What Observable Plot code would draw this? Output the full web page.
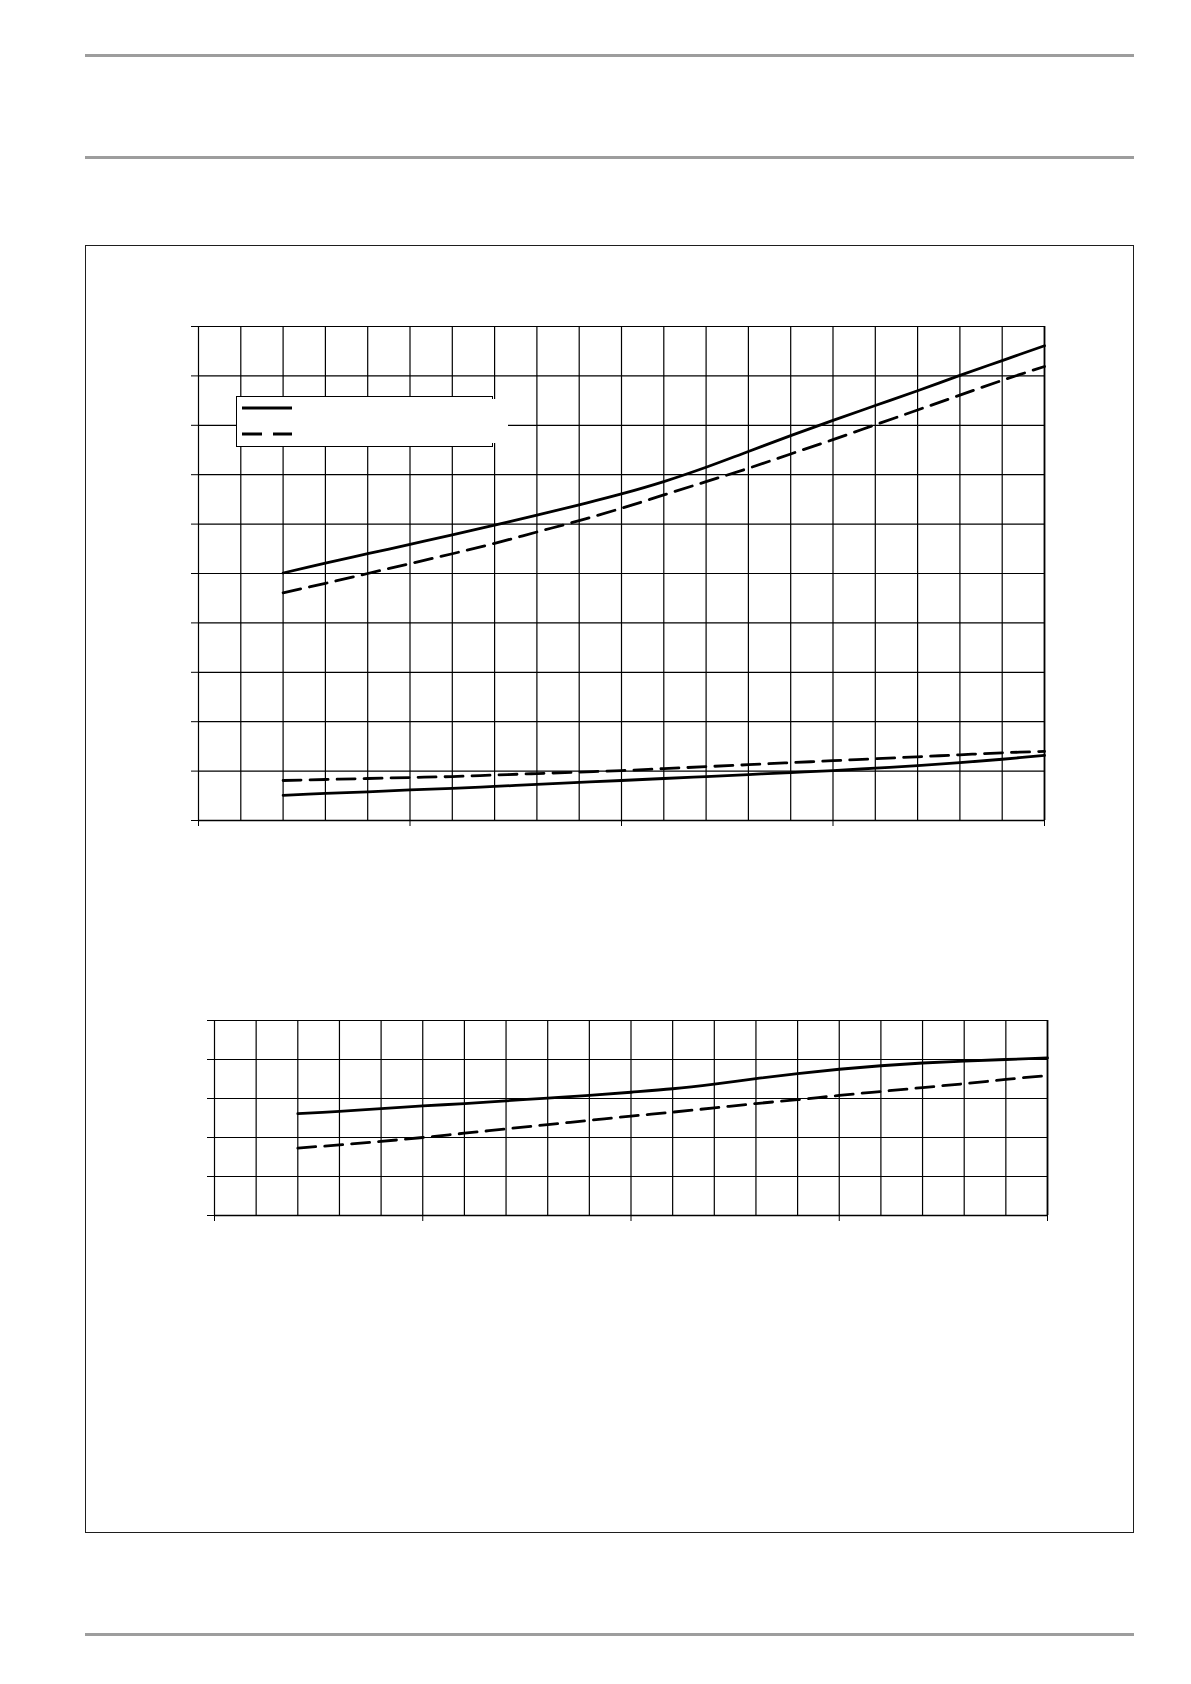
<!DOCTYPE html>
<html>
<head>
<meta charset="utf-8">
<script src="https://cdn.jsdelivr.net/npm/d3@7"></script>
<script src="https://cdn.jsdelivr.net/npm/@observablehq/plot@0.6"></script>
<style>
  html, body { margin: 0; padding: 0; background: #fff; }
  #page { position: relative; width: 1191px; height: 1684px; background: #fff; font-family: "Liberation Sans", Arial, sans-serif; }
  .rule { position: absolute; left: 85px; width: 1049px; height: 3px; background: #9d9d9d; }
  #box { position: absolute; left: 85px; top: 245px; width: 1047px; height: 1286px; border: 1.5px solid #1e1e1e; }
  .chart { position: absolute; }
  #legend { position: absolute; left: 236px; top: 396px; width: 255px; height: 49px; border: 1px solid #000; background: #fff; }
  #legendExt { position: absolute; left: 491px; top: 399px; width: 17px; height: 44px; background: #fff; }
</style>
</head>
<body>
<div id="page">
  <div class="rule" style="top:54px"></div>
  <div class="rule" style="top:156px"></div>
  <div class="rule" style="top:1633px"></div>
  <div id="box"></div>
  <div id="top" class="chart" style="left:150px; top:300px;"></div>
  <div id="legend">
    <svg width="255" height="49" style="position:absolute;left:0;top:0">
      <line x1="5" x2="55" y1="11" y2="11" stroke="#000" stroke-width="3"/>
      <line x1="5" x2="55" y1="37" y2="37" stroke="#000" stroke-width="3" stroke-dasharray="20,11"/>
    </svg>
  </div>
  <div id="legendExt"></div>
  <div id="bottom" class="chart" style="left:160px; top:995px;"></div>
</div>
<script>
// ---- data (axis/legend texts are absent in the source) ----
const xs = [2, 3, 4, 5, 6, 7, 8, 9, 10, 11, 12, 13, 14, 15, 16, 17, 18, 19, 20];

// upper chart
const topSolidHigh = [5.01, 5.21, 5.40, 5.59, 5.78, 5.98, 6.18, 6.39, 6.61, 6.86, 7.15, 7.47, 7.79, 8.10, 8.40, 8.70, 9.01, 9.31, 9.61];
const topDashedHigh = [4.61, 4.80, 5.00, 5.20, 5.40, 5.61, 5.84, 6.07, 6.32, 6.59, 6.86, 7.13, 7.42, 7.71, 8.01, 8.31, 8.61, 8.91, 9.19];
const topSolidLow = [0.51, 0.55, 0.58, 0.62, 0.65, 0.69, 0.73, 0.77, 0.81, 0.85, 0.89, 0.93, 0.97, 1.01, 1.06, 1.11, 1.17, 1.24, 1.32];
const topDashedLow = [0.81, 0.83, 0.85, 0.87, 0.89, 0.92, 0.95, 0.98, 1.01, 1.05, 1.09, 1.13, 1.17, 1.21, 1.25, 1.29, 1.33, 1.37, 1.40];

// lower chart
const bottomSolid = [2.61, 2.67, 2.74, 2.81, 2.87, 2.94, 3.01, 3.08, 3.16, 3.25, 3.37, 3.51, 3.64, 3.75, 3.84, 3.91, 3.96, 4.00, 4.04];
const bottomDashed = [1.73, 1.81, 1.90, 2.00, 2.11, 2.22, 2.33, 2.44, 2.55, 2.65, 2.76, 2.87, 2.97, 3.08, 3.18, 3.28, 3.38, 3.49, 3.59];

// ticks / grid
const xGrid = [0, 1, 2, 3, 4, 5, 6, 7, 8, 9, 10, 11, 12, 13, 14, 15, 16, 17, 18, 19, 20];
const xMajorTicks = [0, 5, 10, 15, 20];
const yGridTop = [0, 1, 2, 3, 4, 5, 6, 7, 8, 9, 10];
const yGridBottom = [0, 1, 2, 3, 4, 5];

const rows = (arr) => xs.map((x, i) => ({x, y: arr[i]}));
const DASH = "18,9";
const LW = 2.8;

function chart({width, height, margins, yDomain, yTicks, solids, dashes}) {
  return Plot.plot({
    width, height,
    marginLeft: margins[0], marginRight: margins[1], marginTop: margins[2], marginBottom: margins[3],
    style: {background: "transparent", overflow: "visible"},
    x: {domain: [0, 20], ticks: xMajorTicks, tickSize: 6, tickFormat: () => "", label: null},
    y: {domain: yDomain, ticks: yTicks, tickSize: 7, tickFormat: () => "", label: null},
    marks: [
      Plot.ruleX(xGrid, {stroke: "#000", strokeWidth: 1.2}),
      Plot.ruleY(yTicks, {stroke: "#000", strokeWidth: 1.2}),
      Plot.ruleY([yDomain[0]], {stroke: "#000", strokeWidth: 1.7}),
      Plot.ruleX([20], {stroke: "#000", strokeWidth: 1.7}),
      ...solids.map(a => Plot.line(rows(a), {x: "x", y: "y", stroke: "#000", strokeWidth: LW, curve: "catmull-rom"})),
      ...dashes.map(a => Plot.line(rows(a), {x: "x", y: "y", stroke: "#000", strokeWidth: LW, strokeDasharray: DASH, curve: "catmull-rom"}))
    ]
  });
}

// top chart: plot area x 198..1044, y 326..820 (page coords), svg at (150,300)
document.getElementById("top").appendChild(chart({
  width: 920, height: 560, margins: [48, 26, 26, 40],
  yDomain: [0, 10], yTicks: yGridTop,
  solids: [topSolidHigh, topSolidLow], dashes: [topDashedHigh, topDashedLow]
}));

// bottom chart: plot area x 214..1047, y 1020..1215, svg at (160,995)
document.getElementById("bottom").appendChild(chart({
  width: 910, height: 250, margins: [54, 23, 25, 30],
  yDomain: [0, 5], yTicks: yGridBottom,
  solids: [bottomSolid], dashes: [bottomDashed]
}));
</script>
</body>
</html>
